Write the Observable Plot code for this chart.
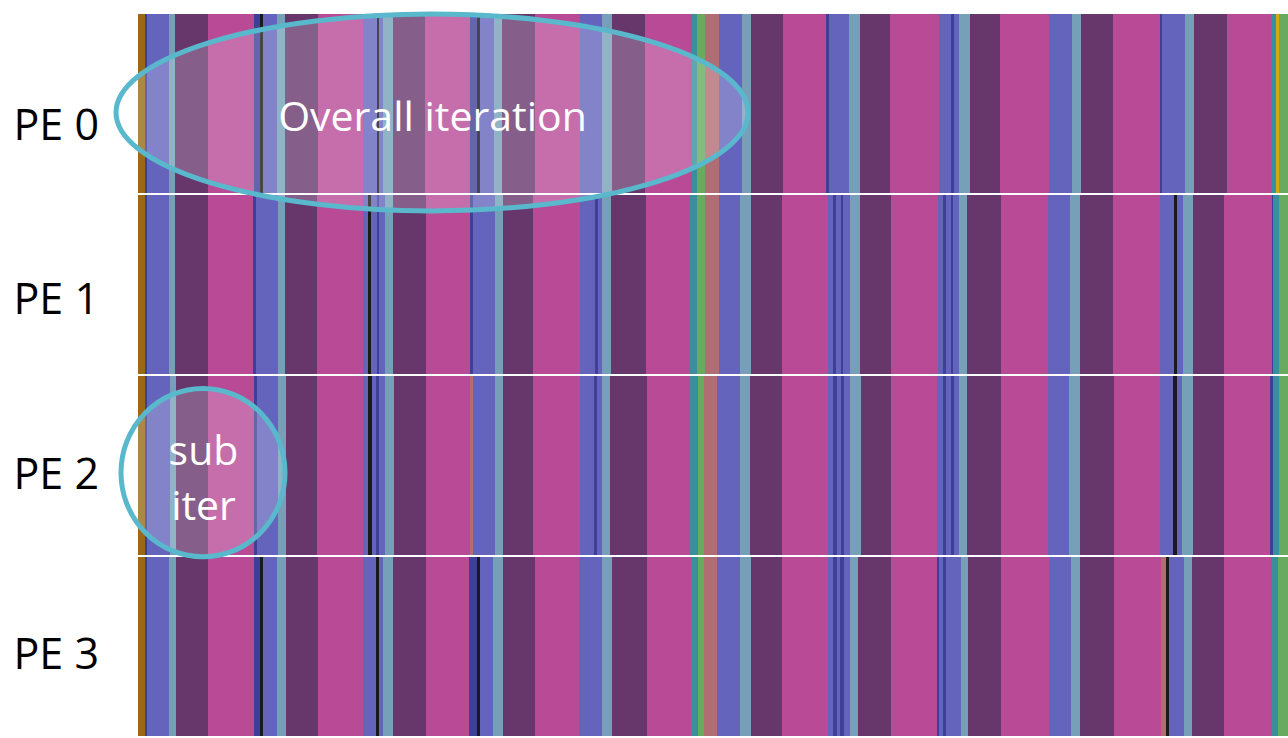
<!DOCTYPE html>
<html>
<head>
<meta charset="utf-8">
<script src="https://cdn.jsdelivr.net/npm/d3@7"></script>
<script src="https://cdn.jsdelivr.net/npm/@observablehq/plot@0.6"></script>
<style>
  html, body { margin: 0; padding: 0; background: #ffffff; }
  #chart svg { display: block; }
</style>
</head>
<body>
<div id="chart"></div>
<script>
// Processing elements (rows of the timeline)
const processors = ["PE 0", "PE 1", "PE 2", "PE 3"];
// Vertical nudge of each row label (px)
const processorLabelNudges = [22, 15, 9, 8];

// End of the visible trace window (time units)
const traceEnd = 1150;

// Activity kinds and their colours
const activityKinds  = ["init", "send", "recv", "pack", "compute", "msg", "idle", "sync", "reduce", "io", "ckpt"];
const activityColors = ["#9a6818", "#6464bc", "#76a0b8", "#67376c", "#b84a96", "#3e3f98", "#1a1a1a", "#3a8f9c", "#68aa60", "#b06e72", "#d6a818"];

// Per-PE event streams: [start time, activity]; each activity lasts until the next one starts
const pe0Events = [
  [0, "init"], [7, "msg"], [8.5, "send"], [31, "recv"], [37, "pack"], [70, "compute"],
  [116, "msg"], [122, "idle"], [124.5, "send"], [139, "recv"], [147, "pack"], [180, "compute"],
  [225, "send"], [238.5, "idle"], [241, "send"], [245, "recv"], [255, "pack"], [287, "compute"],
  [332, "msg"], [338.5, "idle"], [342, "send"], [356, "recv"], [363.5, "pack"], [397, "compute"],
  [442, "send"], [463.5, "recv"], [473.5, "pack"], [507, "compute"],
  [553.5, "sync"], [558.5, "reduce"], [567, "io"],
  [581, "send"], [603.5, "recv"], [612.5, "pack"], [645, "compute"],
  [687.8, "msg"], [691.3, "send"], [710.5, "recv"], [722, "pack"], [752, "compute"],
  [800.5, "send"], [813, "msg"], [816.3, "send"], [820.8, "recv"], [832.4, "pack"], [862.2, "compute"],
  [911.2, "send"], [933.6, "recv"], [942.7, "pack"], [974.9, "compute"],
  [1021.5, "msg"], [1024.3, "send"], [1046.7, "recv"], [1055.8, "pack"], [1088.7, "compute"],
  [1133.2, "sync"], [1137.7, "ckpt"], [1140.5, "reduce"]
];
const pe1Events = [
  [0, "init"], [7, "msg"], [9.3, "send"], [31.3, "recv"], [37, "pack"], [70.3, "compute"],
  [115.3, "msg"], [118, "send"], [140.3, "recv"], [147, "pack"], [178.7, "compute"],
  [225.3, "send"], [230.3, "idle"], [233, "send"], [238.7, "msg"], [241.3, "send"], [247, "recv"], [255.3, "pack"], [288, "compute"],
  [332, "msg"], [335.3, "send"], [357, "recv"], [365.3, "pack"], [395.3, "compute"],
  [442, "send"], [457, "msg"], [460.3, "send"], [464.3, "recv"], [472.7, "pack"], [508, "compute"],
  [552, "sync"], [559.3, "reduce"], [567, "io"],
  [581.3, "send"], [602, "recv"], [612.7, "pack"], [643.7, "compute"],
  [689.7, "send"], [695.3, "msg"], [697.7, "send"], [703, "msg"], [705.3, "send"], [712, "recv"], [722, "pack"], [753, "compute"],
  [799.7, "send"], [805.3, "msg"], [807.7, "send"], [812.7, "msg"], [815.3, "send"], [821.3, "recv"], [829.3, "pack"], [862.7, "compute"],
  [910.3, "send"], [932, "recv"], [942, "pack"], [975.3, "compute"],
  [1022, "send"], [1036, "idle"], [1038.7, "send"], [1044.7, "recv"], [1054.7, "pack"], [1086.3, "compute"],
  [1133.7, "msg"], [1135.3, "sync"], [1141, "reduce"]
];
const pe2Events = [
  [0, "init"], [7, "msg"], [9, "send"], [31.5, "recv"], [37.5, "pack"], [70, "compute"],
  [116, "msg"], [118.5, "send"], [140, "recv"], [148, "pack"], [178.7, "compute"],
  [224.7, "send"], [230.3, "idle"], [233.7, "send"], [238, "msg"], [241, "send"], [247, "recv"], [256, "pack"], [288, "compute"],
  [332, "io"], [334.7, "send"], [357, "recv"], [365.3, "pack"], [395.3, "compute"],
  [442, "send"], [456, "msg"], [459.3, "send"], [463.7, "recv"], [472, "pack"], [508.7, "compute"],
  [552, "sync"], [560.3, "reduce"], [566, "io"],
  [579.3, "send"], [602, "recv"], [612, "pack"], [643.7, "compute"],
  [689.7, "send"], [695.3, "msg"], [698.7, "send"], [702.7, "msg"], [706, "send"], [712, "recv"], [722.7, "pack"], [753, "compute"],
  [799.3, "send"], [804.7, "msg"], [808, "send"], [812.7, "msg"], [816, "send"], [821.3, "recv"], [829.3, "pack"], [863, "compute"],
  [909.7, "send"], [931.3, "recv"], [942, "pack"], [976, "compute"],
  [1022, "send"], [1035.3, "idle"], [1038.7, "send"], [1044.3, "recv"], [1054.7, "pack"], [1086, "compute"],
  [1132, "msg"], [1135.3, "sync"], [1141, "reduce"]
];
const pe3Events = [
  [0, "init"], [7, "msg"], [9.3, "send"], [31.3, "recv"], [37.7, "pack"], [70.3, "compute"],
  [116, "msg"], [122, "idle"], [125.3, "send"], [138.7, "recv"], [147.7, "pack"], [179.7, "compute"],
  [224.7, "send"], [238, "idle"], [241, "send"], [245.3, "recv"], [255.3, "pack"], [287.7, "compute"],
  [331.3, "msg"], [338.7, "idle"], [342, "send"], [355.3, "recv"], [364.7, "pack"], [397, "compute"],
  [441.3, "send"], [463.7, "recv"], [474.3, "pack"], [508.7, "compute"],
  [552.7, "sync"], [560.3, "reduce"], [566, "io"],
  [579.3, "send"], [602, "recv"], [612.7, "pack"], [643.7, "compute"],
  [689.7, "send"], [695.3, "msg"], [698.7, "send"], [702, "msg"], [706, "send"], [712, "recv"], [720.3, "pack"], [753, "compute"],
  [798.7, "msg"], [801.3, "send"], [804.7, "msg"], [808, "send"], [823, "recv"], [830.3, "pack"], [863, "compute"],
  [911, "send"], [933, "recv"], [942, "pack"], [976.3, "compute"],
  [1023, "io"], [1028, "idle"], [1031.3, "send"], [1046.3, "recv"], [1053.7, "pack"], [1086, "compute"],
  [1133.7, "sync"], [1139.7, "reduce"]
];

// Highlighted regions: label, centre time, row, half-width (time), half-height (rows), vertical offset (rows)
const highlightLabels      = ["Overall iteration", "sub\niter"];
const highlightCenters     = [294, 65];
const highlightRows        = ["PE 0", "PE 2"];
const highlightHalfWidths  = [316, 82];
const highlightHalfHeights = [0.55, 0.47];
const highlightOffsets     = [0.05, 0.04];

const timelines = [pe0Events, pe1Events, pe2Events, pe3Events];
const segments = timelines.flatMap((events, p) =>
  events.map(([start, kind], i) => ({
    pe: processors[p],
    kind,
    start,
    end: i + 1 < events.length ? events[i + 1][0] : traceEnd
  }))
);

const highlights = highlightLabels.map((label, i) => ({
  label,
  center: highlightCenters[i],
  row: highlightRows[i],
  halfWidth: highlightHalfWidths[i],
  halfHeight: highlightHalfHeights[i],
  offset: highlightOffsets[i]
}));

// Ellipses drawn through the plot's own x and y scales
function highlightShapes(index, scales) {
  const g = d3.create("svg:g");
  const bw = typeof scales.y.bandwidth === "function" ? scales.y.bandwidth() : 0;
  for (const h of highlights) {
    const cx = scales.x(h.center);
    const cy = scales.y(h.row) + bw * (0.5 + h.offset);
    const rx = scales.x(h.center + h.halfWidth) - cx;
    const ry = bw * h.halfHeight;
    g.append("ellipse")
      .attr("cx", cx).attr("cy", cy).attr("rx", rx).attr("ry", ry)
      .attr("fill", "#ffffff").attr("fill-opacity", 0.2)
      .attr("stroke", "#5ab8cc").attr("stroke-width", 5);
  }
  return g.node();
}

// One label mark per row so each can carry its own nudge
const processorLabels = processors.map((pe, i) =>
  Plot.text([pe], {
    y: d => d, frameAnchor: "left", textAnchor: "start",
    dx: -125, dy: processorLabelNudges[i], fontSize: 43, fill: "#000000"
  })
);

const chart = Plot.plot({
  width: 1288,
  height: 738,
  marginLeft: 138,
  marginRight: 0,
  marginTop: 13,
  marginBottom: 0,
  x: {domain: [0, traceEnd], axis: null},
  y: {domain: processors, axis: null, paddingInner: 0.01, paddingOuter: 0},
  color: {domain: activityKinds, range: activityColors},
  style: {fontFamily: "'Open Sans', sans-serif", background: "#ffffff", overflow: "visible"},
  marks: [
    Plot.barX(segments, {x1: "start", x2: "end", y: "pe", fill: "kind", shapeRendering: "crispEdges"}),
    ...processorLabels,
    highlightShapes,
    Plot.text(highlights, {
      x: "center", y: "row", text: "label", dy: 9,
      fontSize: 41, fill: "#ffffff", lineHeight: 1.35, lineAnchor: "middle"
    })
  ]
});

document.getElementById("chart").appendChild(chart);
</script>
</body>
</html>
